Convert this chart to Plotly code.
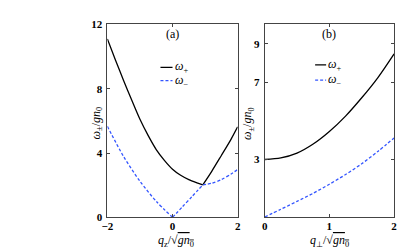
import plotly.graph_objects as go

# ---- Panel (a): dispersion along q_z ----
qa_plus_left = [-2.0, -1.75, -1.5, -1.25, -1.0, -0.75, -0.5, -0.25, 0.0, 0.25, 0.5, 0.75, 0.93]
wa_plus_left = [11.1, 9.78, 8.5, 7.28, 6.1, 5.1, 4.22, 3.55, 3.0, 2.62, 2.35, 2.15, 2.02]
qa_plus_right = [0.93, 1.2, 1.5, 1.8, 2.0]
wa_plus_right = [2.02, 2.85, 3.85, 4.87, 5.63]

qa_minus_left = [-2.0, -1.5, -1.0, -0.5, 0.0]
wa_minus_left = [5.66, 3.78, 2.25, 1.0, 0.0]
qa_minus_mid = [0.0, 0.3, 0.6, 0.93]
wa_minus_mid = [0.0, 0.65, 1.3, 2.02]
qa_minus_right = [0.93, 1.2, 1.5, 1.8, 2.0]
wa_minus_right = [2.02, 2.12, 2.35, 2.7, 2.98]

# ---- Panel (b): dispersion along q_perp ----
qb = [0.0, 0.25, 0.5, 0.75, 1.0, 1.25, 1.5, 1.75, 2.0]
wb_plus = [3.0, 3.08, 3.33, 3.8, 4.45, 5.25, 6.2, 7.25, 8.48]
wb_minus = [0.02, 0.42, 0.83, 1.25, 1.72, 2.22, 2.78, 3.42, 4.12]

xa_ticks = [-2, 0, 2]
ya_ticks = [0, 4, 8, 12]
xb_ticks = [0, 1, 2]
yb_ticks = [3, 7, 9]

BLACK = "#000000"
BLUE = "#3355ff"
LW = 1.3
DASH = "3px,2px"

# page body has an 8px margin; the figure is placed at (8, 8)
W, H, OFF = 407, 242, 8
def px(x):
    return (x - OFF) / W
def py(y):
    return 1 - (y - OFF) / H

fig = go.Figure()

def add(x, y, color, dash, xa, ya):
    fig.add_trace(go.Scatter(x=x, y=y, mode="lines", xaxis=xa, yaxis=ya,
                             line=dict(color=color, width=LW, dash=dash, shape="spline", smoothing=0.8),
                             showlegend=False, hoverinfo="skip"))

add(qa_plus_left, wa_plus_left, BLACK, "solid", "x", "y")
add(qa_plus_right, wa_plus_right, BLACK, "solid", "x", "y")
add(qa_minus_left, wa_minus_left, BLUE, DASH, "x", "y")
add(qa_minus_mid, wa_minus_mid, BLUE, DASH, "x", "y")
add(qa_minus_right, wa_minus_right, BLUE, DASH, "x", "y")
add(qb, wb_plus, BLACK, "solid", "x2", "y2")
add(qb, wb_minus, BLUE, DASH, "x2", "y2")

tickfont = dict(family="Liberation Serif", size=11, color="black", weight="bold")
axcommon = dict(showline=True, linecolor="#444", linewidth=1, mirror="ticks",
                ticks="inside", ticklen=3, tickcolor="#444", showgrid=False,
                zeroline=False, tickfont=tickfont)

fig.update_layout(
    width=W, height=H,
    margin=dict(l=0, r=0, t=0, b=0),
    paper_bgcolor="white", plot_bgcolor="white",
    showlegend=False,
    xaxis=dict(domain=[px(103.5), px(236.7)], range=[-2, 2], tickvals=xa_ticks,
               ticklabelstandoff=-2, **axcommon),
    yaxis=dict(domain=[py(222), py(19)], range=[0, 12], tickvals=ya_ticks,
               ticklabelstandoff=2, **axcommon),
    xaxis2=dict(domain=[px(264.3), px(396.7)], range=[0, 2], tickvals=xb_ticks, anchor="y2",
                ticklabelstandoff=-2, **axcommon),
    yaxis2=dict(domain=[py(222), py(19)], range=[0, 10], tickvals=yb_ticks, anchor="x2",
                ticklabelstandoff=2, **axcommon),
)

serif = "Liberation Serif"
# manual legends
for xr, yr, x0, x1, yp, ym in [("x", "y", -0.37, 0.0, 9.33, 8.5), ("x2", "y2", 0.78, 0.95, 7.9, 7.11)]:
    fig.add_shape(type="line", xref=xr, yref=yr, x0=x0, x1=x1, y0=yp, y1=yp,
                  line=dict(color=BLACK, width=LW))
    fig.add_shape(type="line", xref=xr, yref=yr, x0=x0, x1=x1, y0=ym, y1=ym,
                  line=dict(color=BLUE, width=LW, dash=DASH))
    fig.add_annotation(xref=xr, yref=yr, x=x1, y=yp, text="<i>ω</i><sub>+</sub>", showarrow=False,
                       xanchor="left", yanchor="middle", font=dict(family=serif, size=12, color="black"))
    fig.add_annotation(xref=xr, yref=yr, x=x1, y=ym, text="<i>ω</i><sub>−</sub>", showarrow=False,
                       xanchor="left", yanchor="middle", font=dict(family=serif, size=12, color="black"))

# panel titles
fig.add_annotation(xref="x", yref="y", x=0, y=11.4, text="(a)", showarrow=False,
                   xanchor="center", yanchor="middle", font=dict(family=serif, size=12, color="black"))
fig.add_annotation(xref="x2", yref="y2", x=1.0, y=9.53, text="(b)", showarrow=False,
                   xanchor="center", yanchor="middle", font=dict(family=serif, size=12, color="black"))

# axis labels
ylab = "<i>ω</i><sub>±</sub>/<i>gn</i><sub>0</sub>"
fig.add_annotation(xref="paper", yref="paper", x=px(93), y=py(123), text=ylab, textangle=-90,
                   xanchor="center", yanchor="middle",
                   showarrow=False, font=dict(family=serif, size=12, color="black"))
fig.add_annotation(xref="paper", yref="paper", x=px(248), y=py(123), text=ylab, textangle=-90,
                   xanchor="center", yanchor="middle",
                   showarrow=False, font=dict(family=serif, size=12, color="black"))
fig.add_annotation(xref="paper", yref="paper", x=px(174), y=py(247),
                   text="<i>q</i><sub>z</sub>/√<span style='text-decoration:overline'><i>gn</i><sub>0</sub></span>",
                   xanchor="center", yanchor="middle",
                   showarrow=False, font=dict(family=serif, size=12, color="black"))
fig.add_annotation(xref="paper", yref="paper", x=px(331), y=py(247),
                   text="<i>q</i><sub>⊥</sub>/√<span style='text-decoration:overline'><i>gn</i><sub>0</sub></span>",
                   xanchor="center", yanchor="middle",
                   showarrow=False, font=dict(family=serif, size=12, color="black"))

fig.write_html("out.html")
